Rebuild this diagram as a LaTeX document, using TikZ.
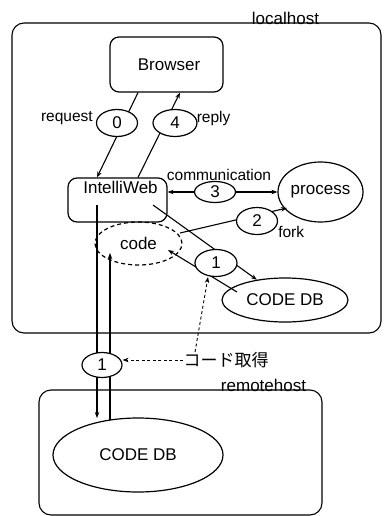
\documentclass[tikz,border=0pt]{standalone}
\usepackage{fontspec}
\setmainfont{Liberation Sans}
\newfontfamily\jpfont{Noto Sans CJK JP}
\usetikzlibrary{shapes.geometric,arrows.meta}
\pgfdeclarelayer{bg}
\pgfsetlayers{bg,main}

\begin{document}
\begin{tikzpicture}[x=1pt,y=-1pt,
  every node/.style={inner sep=0pt},
  big/.style={font=\fontsize{17}{20}\selectfont},
  small/.style={font=\fontsize{15.5}{18}\selectfont},
  hostbox/.style={draw, line width=1.1pt, rounded corners=12pt},
  roundbox/.style={draw, line width=1.2pt, rounded corners=9pt, big},
  oval/.style={draw, ellipse, line width=1.2pt, big},
  num/.style={oval, fill=white, minimum width=41pt, minimum height=27pt},
  conn/.style={line width=1.1pt},
  tip/.style={-{Stealth[length=6pt,width=4.5pt]}},
  twotips/.style={{Stealth[length=6pt,width=4.5pt]}-{Stealth[length=6pt,width=4.5pt]}},
  fetch/.style={line width=0.9pt, dash pattern=on 3pt off 2.5pt},
]
\useasboundingbox (0,0) rectangle (383,516);

% hosts
\node[hostbox, minimum width=369pt, minimum height=310pt,
      label={[big,anchor=base,xshift=89pt,yshift=-2pt]north:localhost}] (local) at (196.5,178) {};
\node[hostbox, minimum width=283pt, minimum height=125pt,
      label={[big,anchor=base,xshift=83pt,yshift=-2pt]north:remotehost}] (remote) at (180.5,452.5) {};

% components
\node[roundbox, minimum width=113pt, minimum height=55pt] (browser) at (166.5,64.5) {\hspace*{5pt}Browser};
\node[roundbox, minimum width=99pt, minimum height=44pt,
      label={[big,anchor=base,xshift=3pt,yshift=-16pt]north:IntelliWeb}] (iweb) at (117.5,200) {};
\node[oval, minimum width=85pt, minimum height=60pt] (proc) at (320.5,192) {process};
\node[oval, dash pattern=on 4pt off 3pt, minimum width=87pt, minimum height=43pt] (code) at (138.5,243.5) {code};
\node[oval, minimum width=126pt, minimum height=44pt] (ldb) at (285,300) {CODE DB};
\node[oval, minimum width=170pt, minimum height=74pt] (rdb) at (138,455) {CODE DB};
\node[font=\jpfont\fontsize{17}{20}\selectfont] (fetchlbl) at (226,360) {コード取得};

% step numbers
\node[num] (n0) at (117,123) {0};
\node[num, minimum width=44pt] (n4) at (175,123) {4};
\node[num, minimum height=21pt] (n3) at (215,192) {3};
\node[num] (n2) at (257,221) {2};
\node[num, minimum width=42pt] (n1) at (216,263) {1};
\node[num, minimum width=40pt, minimum height=25pt] (r1) at (102,365) {1};

% step labels
\node[small, anchor=east] at ([shift={(-3,-5)}]n0.west) {request};
\node[small, anchor=west] at ([shift={(-1,-5)}]n4.east) {reply};
\node[small] at ([shift={(4,-17)}]n3.center) {communication};
\node[small, anchor=west] at ([shift={(0,11)}]n2.east) {fork};

% connectors
\begin{pgfonlayer}{bg}
\draw[conn,tip] ([xshift=-28.5pt]browser.south) -- ([xshift=-20.5pt]iweb.north);
\draw[conn,tip] ([xshift=20.5pt]iweb.north) -- ([xshift=13.5pt]browser.south);
\draw[conn,twotips] (iweb.east |- proc.west) -- (proc.west);
\draw[conn,tip] ([shift={(41.5,-10.5)}]code.center) -- ([shift={(-33.5,16)}]proc.center);
\draw[conn,tip] ([shift={(35.5,5)}]iweb.center) -- (ldb);
\draw[conn,tip] ([shift={(-48,-8)}]ldb.center) -- ([shift={(29.5,6.5)}]code.center);
\draw[conn,tip] ([shift={(-20.5,5)}]iweb.center) -- ([shift={(-41,-37)}]rdb.center);
\draw[conn,tip] ([shift={(-28,-35)}]rdb.center) -- ([shift={(-28.5,9.5)}]code.center);
\draw[fetch,tip] ([xshift=-31pt]fetchlbl.north) -- ([xshift=-8pt]n1.south);
\draw[fetch,tip] (fetchlbl.west) -- (fetchlbl.west -| r1.east);
\end{pgfonlayer}
\end{tikzpicture}
\end{document}
